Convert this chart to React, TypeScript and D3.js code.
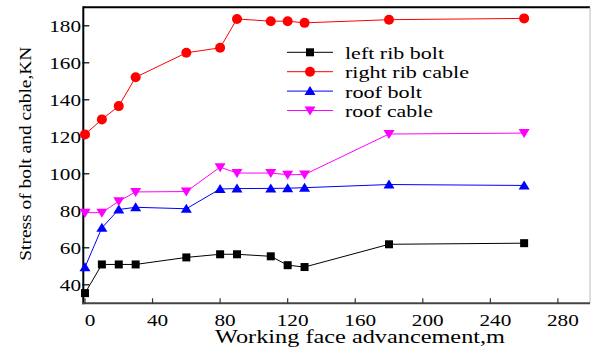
import React from "react";
import * as d3 from "d3";

const W = 591;
const H = 356;

const advance = [0, 10, 20, 30, 60, 80, 90, 110, 120, 130, 180, 260];
const leftRibBolt = [35.5, 51, 51, 51, 54.8, 56.5, 56.5, 55.4, 50.6, 49.6, 61.9, 62.5];
const rightRibCable = [121.3, 129.4, 136.6, 152.2, 165.4, 168.1, 183.7, 182.5, 182.5, 181.6, 183.3, 184];
const roofBolt = [49.5, 70.8, 80.7, 81.9, 81.1, 91.8, 92, 92.1, 92.2, 92.5, 94.2, 93.7];
const roofCable = [79, 79, 85.2, 90.2, 90.4, 103.6, 100.4, 100.4, 99.5, 99.6, 121.5, 122];

const xTicks = [0, 40, 80, 120, 160, 200, 240, 280];
const yTicks = [40, 60, 80, 100, 120, 140, 160, 180];

const seriesNames = ["left rib bolt", "right rib cable", "roof bolt", "roof cable"];
const legendWidths = [99, 124, 77, 88];

const FONT = "Liberation Serif, Times New Roman, Times, serif";

function FText({ x, y, len, size = 17, anchor = "start", transform, children }: any) {
  return (
    <text
      x={x}
      y={y}
      transform={transform}
      fontFamily={FONT}
      fontSize={size}
      textAnchor={anchor}
      textLength={len}
      lengthAdjust="spacingAndGlyphs"
      fill="#000"
    >
      {children}
    </text>
  );
}

function Marker({ kind, color, cx, cy }: any) {
  if (kind === "square") {
    return <rect x={cx - 4} y={cy - 4} width={8} height={8} fill={color} />;
  }
  if (kind === "circle") {
    return <circle cx={cx} cy={cy} r={5} fill={color} />;
  }
  if (kind === "up") {
    return <path d={`M${cx},${cy - 5}L${cx + 5.5},${cy + 4}L${cx - 5.5},${cy + 4}Z`} fill={color} />;
  }
  return <path d={`M${cx},${cy + 5}L${cx + 5.5},${cy - 4}L${cx - 5.5},${cy - 4}Z`} fill={color} />;
}

export default function App() {
  const left = 83.3, right = 590, top = 7.3, bottom = 303.3;
  const x = d3.scaleLinear().domain([-1, 299]).range([left, right]);
  const y = d3.scaleLinear().domain([30, 190]).range([bottom, top]);

  const series = [
    { name: seriesNames[0], values: leftRibBolt, color: "#000000", kind: "square" },
    { name: seriesNames[1], values: rightRibCable, color: "#ff0000", kind: "circle" },
    { name: seriesNames[2], values: roofBolt, color: "#0000ff", kind: "up" },
    { name: seriesNames[3], values: roofCable, color: "#ff00ff", kind: "down" },
  ];

  const line = d3
    .line<[number, number]>()
    .x((d) => x(d[0]))
    .y((d) => y(d[1]));

  const legendX = 287;
  const legendY0 = 52.3;
  const legendDy = 19.4;

  return (
    <svg width={W} height={H} style={{ position: "absolute", left: 0, top: 0, background: "#fff" }}>
      <rect x={0} y={0} width={W} height={H} fill="#fff" />
      {/* frame */}
      <line x1={left} x2={right} y1={top} y2={top} stroke="#000" strokeWidth={2} />
      <line x1={right} x2={right} y1={top} y2={bottom} stroke="#bbb" strokeWidth={1} />
      <line x1={left} x2={left} y1={top - 1} y2={bottom + 1} stroke="#000" strokeWidth={2} />
      <line x1={left - 1} x2={right} y1={bottom} y2={bottom} stroke="#444" strokeWidth={2} />

      {/* x ticks */}
      {xTicks.map((t) => (
        <g key={"xt" + t}>
          <line x1={x(t)} x2={x(t)} y1={bottom} y2={bottom - 5} stroke="#333" strokeWidth={1.2} />
          <FText x={x(t) + 5} y={325.5} anchor="middle" len={String(t).length * 10.6}>
            {t}
          </FText>
        </g>
      ))}
      {/* y ticks */}
      {yTicks.map((t) => (
        <g key={"yt" + t}>
          <line x1={left - 1} x2={left + 6} y1={y(t)} y2={y(t)} stroke="#000" strokeWidth={1.2} />
          <FText x={81} y={y(t) + 6.3} anchor="end" len={String(t).length * 10.6}>
            {t}
          </FText>
        </g>
      ))}

      {/* axis titles */}
      <FText x={360} y={342.5} anchor="middle" size={19} len={290}>
        Working face advancement,m
      </FText>
      <FText transform={`translate(31,153.7) rotate(-90)`} x={0} y={0} anchor="middle" size={17.5} len={214}>
        Stress of bolt and cable,KN
      </FText>

      {/* series */}
      {series.map((s) => {
        const pts: [number, number][] = advance.map((a, i) => [a, s.values[i]]);
        return (
          <g key={s.name}>
            <path d={line(pts) || ""} fill="none" stroke={s.color} strokeWidth={1} />
            {pts.map((p, i) => (
              <Marker key={i} kind={s.kind} color={s.color} cx={x(p[0])} cy={y(p[1])} />
            ))}
          </g>
        );
      })}

      {/* legend */}
      {series.map((s, i) => {
        const ly = legendY0 + i * legendDy;
        return (
          <g key={"lg" + s.name}>
            <line x1={legendX} x2={legendX + 46} y1={ly} y2={ly} stroke={s.color} strokeWidth={1} />
            <Marker kind={s.kind} color={s.color} cx={legendX + 23} cy={ly} />
            <FText x={345} y={ly + 6.5} size={16.5} len={legendWidths[i]}>
              {s.name}
            </FText>
          </g>
        );
      })}
    </svg>
  );
}
